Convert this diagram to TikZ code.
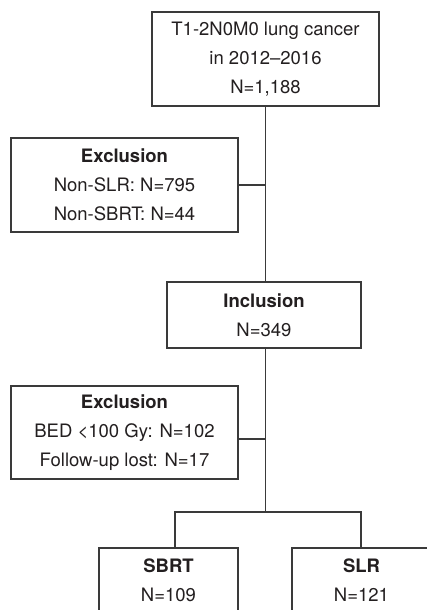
\documentclass[tikz,border=0pt]{standalone}
\usepackage{fontspec}
\setmainfont{TeX Gyre Heros}
\definecolor{linec}{HTML}{3A3A3A}
\definecolor{textc}{HTML}{231F20}
\begin{document}
\begin{tikzpicture}[x=1pt,y=-1pt,
  box/.style={draw=linec, line width=1.1pt, inner sep=0pt, align=center, text=textc,
    font=\fontsize{18.5}{29}\selectfont},
  conn/.style={draw=linec, line width=1.1pt}]
\clip (0,0) rectangle (427,610);
\fill[white] (0,0) rectangle (427,610);
\node[box, minimum width=227pt, minimum height=94pt] (top) at (265.5,59)
  {T1-2N0M0 lung cancer\\in 2012--2016\\N=1,188};
\node[box, minimum width=227pt, minimum height=94pt] (ex1) at (124.5,185)
  {\textbf{Exclusion}\\Non-SLR: N=795\\Non-SBRT: N=44};
\node[box, minimum width=194pt, minimum height=66pt] (incl) at (264,315)
  {\textbf{Inclusion}\\N=349};
\node[box, minimum width=227pt, minimum height=93pt] (ex2) at (124.5,432.5)
  {\textbf{Exclusion}\\BED <100 Gy: N=102\\Follow-up lost: N=17};
\node[box, minimum width=139pt, minimum height=64pt] (sbrt) at (168.5,580)
  {\textbf{SBRT}\\N=109};
\node[box, minimum width=139pt, minimum height=64pt] (slr) at (361.5,580)
  {\textbf{SLR}\\N=121};
\coordinate (j1) at (265.5,185);
\coordinate (j2) at (265.5,439);
\coordinate (br) at (265.5,512);
\coordinate (bl) at (175,512);
\coordinate (bri) at (361,512);
\draw[conn] (top.south -| j1) -- (incl.north -| j1);
\draw[conn] (ex1.east) -- (j1);
\draw[conn] (incl.south -| br) -- (br);
\draw[conn] (ex2.east |- j2) -- (j2);
\draw[conn] (bl |- sbrt.north) -- (bl) -- (bri) -- (bri |- slr.north);
\end{tikzpicture}
\end{document}
